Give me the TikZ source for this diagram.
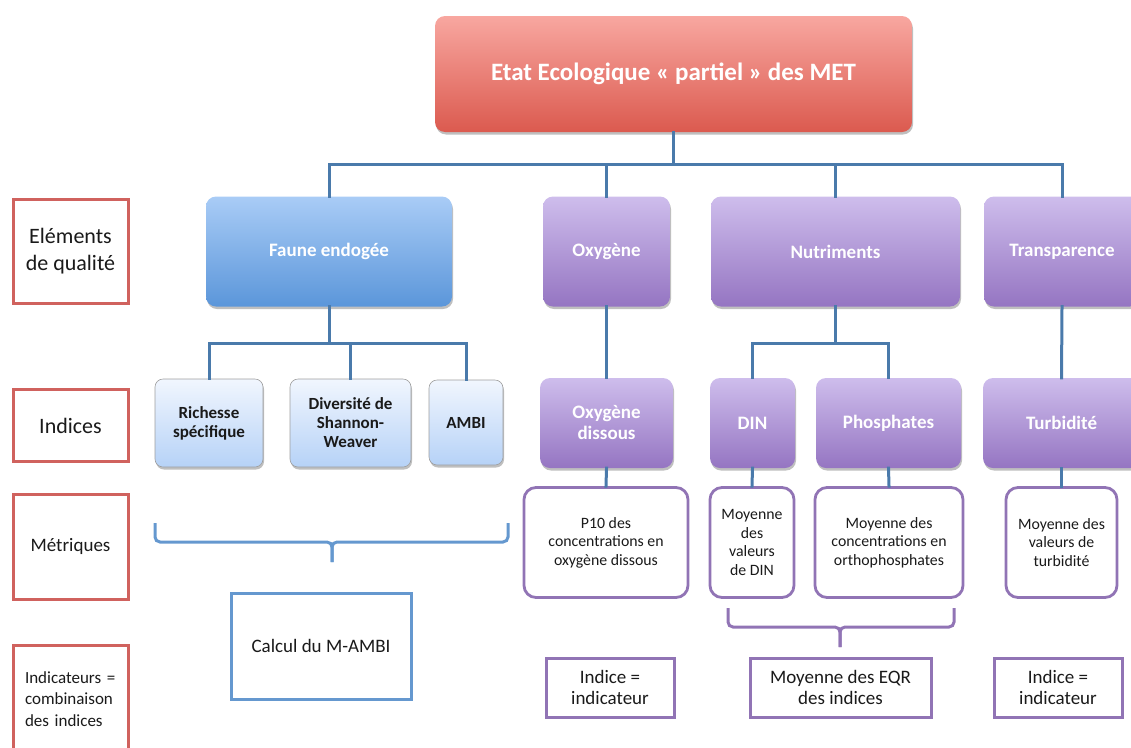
\documentclass[tikz,border=0pt]{standalone}
\usepackage{fontspec}
\setmainfont{Carlito}
\usetikzlibrary{shadows}

\definecolor{connc}{HTML}{4A7AAB}
\definecolor{redline}{HTML}{D0625E}
\definecolor{purpline}{HTML}{9174B5}
\definecolor{blueline}{HTML}{6598CF}
\definecolor{redtop}{HTML}{F8A7A0}
\definecolor{redbot}{HTML}{DB5A4F}
\definecolor{bluetop}{HTML}{A9CCF6}
\definecolor{bluebot}{HTML}{5B96DA}
\definecolor{lbtop}{HTML}{F1F6FE}
\definecolor{lbbot}{HTML}{B6D2F7}
\definecolor{purtop}{HTML}{CEBDEC}
\definecolor{purbot}{HTML}{9575C2}
\definecolor{ink}{HTML}{1A1A1A}

\tikzset{
  sz/.style 2 args={minimum width=#1pt, minimum height=#2pt, inner sep=0pt, align=center},
  softshadow/.style={drop shadow={shadow xshift=1pt, shadow yshift=-2.5pt, opacity=0.25, fill=black}},
  conn/.style={draw=connc, line width=3pt, line cap=rect},
  mainbox/.style={rounded corners=10pt, top color=redtop, bottom color=redbot, softshadow,
    text=white, font=\bfseries\fontsize{25}{29}\selectfont},
  faunebox/.style={rounded corners=10pt, top color=bluetop, bottom color=bluebot, softshadow,
    text=white, font=\bfseries\fontsize{19}{22}\selectfont},
  indexbox/.style={rounded corners=8pt, top color=lbtop, bottom color=lbbot, draw=black!38,
    line width=0.6pt, softshadow, text=ink, font=\bfseries\fontsize{17}{19}\selectfont},
  purbox/.style={rounded corners=10pt, top color=purtop, bottom color=purbot, softshadow,
    text=white, font=\bfseries\fontsize{19}{21}\selectfont},
  metricbox/.style={rounded corners=12pt, draw=purpline, line width=2.8pt, fill=white,
    text=ink, font=\fontsize{15.8}{18.5}\selectfont},
  levelbox/.style={draw=redline, line width=3pt, fill=white, text=ink},
  resultbox/.style={draw=purpline, line width=3pt, fill=white, text=ink,
    font=\fontsize{19}{21}\selectfont},
  calcbox/.style={draw=blueline, line width=3pt, fill=white, text=ink,
    font=\fontsize{19}{22}\selectfont},
  bluebrace/.style={draw=blueline, line width=3pt, rounded corners=5pt},
  purbrace/.style={draw=purpline, line width=3pt, rounded corners=5pt},
}

\begin{document}
\begin{tikzpicture}[x=1pt, y=-1pt]
\useasboundingbox (0,0) rectangle (1131,747);

% level labels on the left
\node[levelbox, sz={115}{104}, font=\fontsize{22}{27}\selectfont] (lvlq) at (70.5,251) {Eléments\\de qualité};
\node[levelbox, sz={115}{72}, font=\fontsize{22}{24}\selectfont] (lvli) at (70.5,425.5) {Indices};
\node[levelbox, sz={115}{105}, font=\fontsize{19}{22}\selectfont] (lvlm) at (70.5,546.5) {Métriques};
\node[levelbox, sz={115}{108}, font=\fontsize{17}{21.5}\selectfont, text width=91pt, align=left] (lvlc) at (70.5,699)
  {Indicateurs =\\combinaison\\des indices};

% overall status
\node[mainbox, sz={477}{116}] (top) at (673.5,74) {Etat Ecologique « partiel » des MET};

% quality elements
\node[faunebox, sz={246}{110}] (faune) at (329,251.5) {Faune endogée};
\node[purbox, sz={127}{110}] (oxy) at (606.5,251.5) {Oxygène};
\node[purbox, sz={249}{110}] (nut) at (835.5,251.5) {Nutriments};
\node[purbox, sz={156}{110}] (tra) at (1062,251.5) {Transparence};

% indices
\node[indexbox, sz={108}{88}] (rich) at (209,423) {Richesse\\spécifique};
\node[indexbox, sz={121}{88}] (div) at (350.5,423) {Diversité de\\Shannon-\\Weaver};
\node[indexbox, sz={74}{85}] (ambi) at (466,422.5) {AMBI};
\node[purbox, sz={133}{90}] (oxd) at (606.5,423) {Oxygène\\dissous};
\node[purbox, sz={85}{90}] (din) at (752.5,423) {DIN};
\node[purbox, sz={145}{90}] (pho) at (888.5,423) {Phosphates};
\node[purbox, sz={157}{90}] (tur) at (1061.5,423) {Turbidité};

% metrics
\node[metricbox, sz={164}{110}] (p10) at (606,542.5) {P10 des\\concentrations en\\oxygène dissous};
\node[metricbox, sz={84}{110}] (dinm) at (752,542.5) {Moyenne\\des\\valeurs\\de DIN};
\node[metricbox, sz={148}{110}] (orth) at (889,542.5) {Moyenne des\\concentrations en\\orthophosphates};
\node[metricbox, sz={111}{110}] (turm) at (1061.5,542.5) {Moyenne des\\valeurs de\\turbidité};

% indicators
\node[calcbox, sz={180}{106}] (calc) at (321,646) {Calcul du M-AMBI};
\node[resultbox, sz={128}{59}] (ind1) at (610,687.5) {Indice =\\indicateur};
\node[resultbox, sz={181}{59}] (eqr) at (840.5,687.5) {Moyenne des EQR\\des indices};
\node[resultbox, sz={128}{59}] (ind2) at (1058,687.5) {Indice =\\indicateur};

% tree connectors
\coordinate (bus) at (0,164);
\coordinate (sub) at (0,343);
\draw[conn] (top.south) -- (top.south |- bus);
\draw[conn] (faune.north |- bus) -- (tra.north |- bus);
\foreach \n in {faune,oxy,nut,tra} \draw[conn] (\n.north) -- (\n.north |- bus);

\draw[conn] (faune.south) -- (faune.south |- sub);
\draw[conn] (rich.north |- sub) -- (ambi.north |- sub);
\foreach \n in {rich,div,ambi} \draw[conn] (\n.north) -- (\n.north |- sub);

\draw[conn] (nut.south) -- (nut.south |- sub);
\draw[conn] (din.north |- sub) -- (pho.north |- sub);
\foreach \n in {din,pho} \draw[conn] (\n.north) -- (\n.north |- sub);

\draw[conn] (oxy.south) -- (oxd.north);
\draw[conn] (tra.south) -- (tur.north);

\draw[conn] (oxd.south) -- (p10.north);
\draw[conn] (din.south) -- (dinm.north);
\draw[conn] (pho.south) -- (orth.north);
\draw[conn] (tur.south) -- (turm.north);

% braces grouping metrics
\coordinate (btip) at (332,562);
\draw[bluebrace] (155,523) -- (155,542) -- (332,542) -- (btip);
\draw[bluebrace] (508,523) -- (508,542) -- (332,542) -- (btip);

\coordinate (ptip) at (840,647);
\draw[purbrace] (728,608) -- (728,627) -- (840,627) -- (ptip);
\draw[purbrace] (954,608) -- (954,627) -- (840,627) -- (ptip);
\end{tikzpicture}
\end{document}
